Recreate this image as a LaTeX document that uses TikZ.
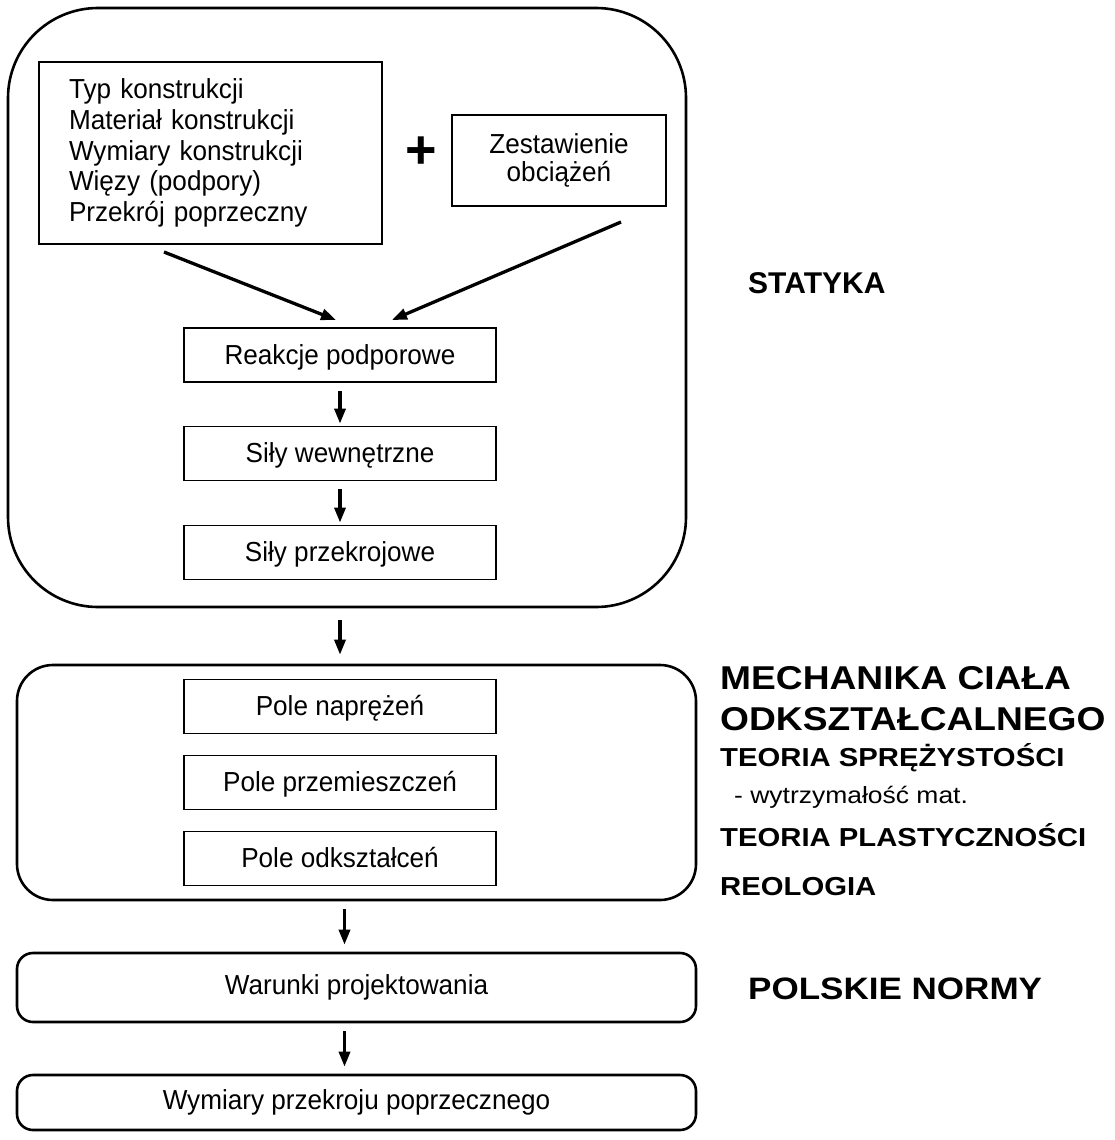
\documentclass[tikz,border=0pt]{standalone}
\usepackage{fontspec}
\setmainfont{Liberation Sans}
\newfontfamily\boxff[FakeStretch=0.95]{Liberation Sans}
\newfontfamily\wideff[FakeStretch=1.126]{Liberation Sans}
\newfontfamily\sideff[FakeStretch=1.13]{Liberation Sans}
\usetikzlibrary{arrows.meta,calc}
\newcommand{\bxfont}{\boxff\fontsize{27.5}{30.6}\selectfont}
\begin{document}
\begin{tikzpicture}[x=1pt,y=-1pt,
  cont/.style={draw, line width=2.6pt, inner sep=0pt},
  inbox/.style={draw, line width=1.8pt, minimum width=312pt, minimum height=54pt,
                inner sep=0pt, font=\bxfont, text height=19.5pt, text depth=1pt},
  arr/.style={line width=3.3pt, -{Triangle[length=15pt,width=11pt]}},
  rt/.style={anchor=base west, inner sep=0pt},
  bighead/.style={font=\wideff\bfseries\fontsize{33}{33}\selectfont},
  subhead/.style={font=\wideff\bfseries\fontsize{26}{26}\selectfont},
  sidehead/.style={font=\bfseries\fontsize{30}{30}\selectfont}
]
\useasboundingbox (0,0) rectangle (1115,1140);

% STATYKA container
\node[cont, rounded corners=90pt, minimum width=678pt, minimum height=599pt] (big) at (347,307.5) {};

\node[draw, line width=1.8pt, text width=283pt, inner xsep=30pt, inner ysep=0pt,
      minimum height=182pt, align=left, font=\bxfont] (props) at (210.5,153)
  {Typ konstrukcji\\Materiał konstrukcji\\Wymiary konstrukcji\\Więzy (podpory)\\Przekrój poprzeczny};

\node[inner sep=0pt, font=\bfseries\fontsize{54}{54}\selectfont] (plus) at (421,153) {+};

\node[draw, line width=1.8pt, minimum width=214pt, minimum height=91pt, inner sep=0pt,
      align=center, font=\boxff\fontsize{27.5}{28.5}\selectfont] (zest) at (559,160.5)
  {Zestawienie\\obciążeń};

\node[inbox] (reak) at (340,355) {Reakcje podporowe};
\node[inbox] (silw) at (340,453.5) {Siły wewnętrzne};
\node[inbox] (silp) at (340,552.5) {Siły przekrojowe};

% Mechanika container
\node[cont, rounded corners=36pt, minimum width=679pt, minimum height=235pt] (mech) at (356.5,782.5) {};
\node[inbox] (pnap) at (340,706.5) {Pole naprężeń};
\node[inbox] (pprz) at (340,782.5) {Pole przemieszczeń};
\node[inbox] (pods) at (340,858.5) {Pole odkształceń};

\node[cont, rounded corners=16pt, minimum width=679pt, minimum height=69pt, font=\bxfont] (war) at (356.5,987.5) {Warunki projektowania};
\node[cont, rounded corners=16pt, minimum width=679pt, minimum height=55pt, font=\bxfont] (wym) at (356.5,1102.5) {Wymiary przekroju poprzecznego};

% connectors
\coordinate (l1) at (164,252);
\coordinate (l2) at (336,320);
\coordinate (r1) at (621,222);
\coordinate (r2) at (392,320);
\draw[arr] (l1) -- (l2);
\draw[arr] (r1) -- (r2);
\draw[arr, shorten <=8pt, shorten >=2pt] (reak) -- (silw);
\draw[arr, shorten <=8pt, shorten >=2pt] (silw) -- (silp);
\draw[arr, shorten <=12pt, shorten >=9pt] (big.south -| reak.south) -- (mech.north -| reak.south);
\draw[arr, shorten <=8pt, shorten >=7pt] ([xshift=-12pt]mech.south) -- ([xshift=-12pt]war.north);
\draw[arr, shorten <=8pt, shorten >=7pt] ([xshift=-12pt]war.south) -- ([xshift=-12pt]wym.north);

% side labels
\node[rt, sidehead] (stat) at (748,293) {STATYKA};
\node[rt, bighead] (mcb1) at (720,689) {MECHANIKA CIAŁA};
\node[rt, bighead] (mcb2) at (720,730) {ODKSZTAŁCALNEGO};
\node[rt, subhead] (tsp) at (720,766) {TEORIA SPRĘŻYSTOŚCI};
\node[rt, font=\wideff\fontsize{23.5}{23.5}\selectfont] (wyt) at (734,803) {- wytrzymałość mat.};
\node[rt, subhead] (tpl) at (720,846) {TEORIA PLASTYCZNOŚCI};
\node[rt, subhead] (reo) at (720,895) {REOLOGIA};
\node[rt, font=\sideff\bfseries\fontsize{31}{31}\selectfont] (pn) at (748,999) {POLSKIE NORMY};
\end{tikzpicture}
\end{document}
